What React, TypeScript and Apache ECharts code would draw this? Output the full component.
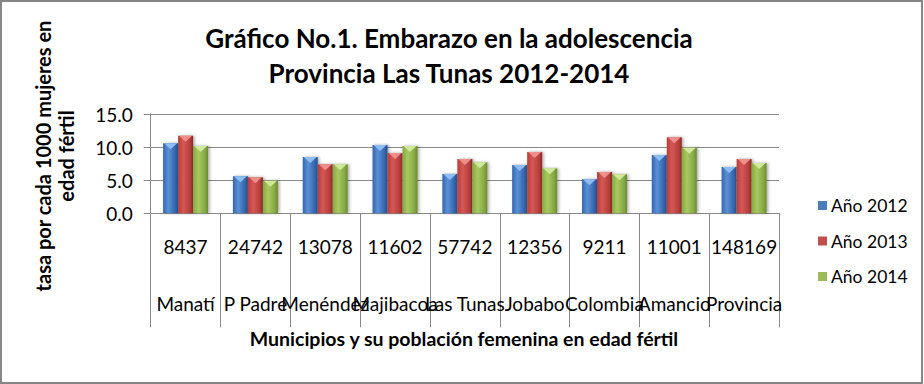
import React, { useEffect, useRef } from "react";
import * as echarts from "echarts";

const municipios = ["Manatí", "P Padre", "Menéndez", "Majibacoa", "Las Tunas", "Jobabo", "Colombia", "Amancio", "Provincia"];
const poblacion = ["8437", "24742", "13078", "11602", "57742", "12356", "9211", "11001", "148169"];
const seriesNames = ["Año 2012", "Año 2013", "Año 2014"];
const anio2012 = [10.6, 5.6, 8.5, 10.3, 5.95, 7.3, 5.15, 8.8, 7.0];
const anio2013 = [11.7, 5.45, 7.4, 9.1, 8.2, 9.25, 6.25, 11.5, 8.2];
const anio2014 = [10.15, 4.9, 7.4, 10.15, 7.7, 6.8, 5.9, 9.9, 7.6];
const yTicks = [0, 5, 10, 15];

const FONT = "Lato, 'Noto Sans', sans-serif";

const palettes = [
  { base: "#4A7EBB", left: "#3466AE", mid: "#5A90D6", right: "#254F8F", tip: "#8DBDF2" },
  { base: "#C0504D", left: "#B53E3B", mid: "#D65855", right: "#8A2926", tip: "#EE8F8B" },
  { base: "#9BBB59", left: "#85A843", mid: "#A8C960", right: "#6A8A2E", tip: "#CFE89A" },
];

export default function App() {
  const ref = useRef<HTMLDivElement>(null);
  useEffect(() => {
    if (!ref.current) return;
    const chart = echarts.init(ref.current, undefined, { renderer: "svg" });
    const allSeries = [anio2012, anio2013, anio2014];
    const bw = 15;
    const series = allSeries.map((vals, s) => ({
      type: "custom" as const,
      name: seriesNames[s],
      itemStyle: { color: palettes[s].base },
      data: vals.map((v, i) => [i, v]),
      encode: { x: 0, y: 1 },
      renderItem: (params: any, api: any) => {
        const cat = api.value(0);
        const v = api.value(1);
        const top = api.coord([cat, v]);
        const base = api.coord([cat, 0]);
        const x = top[0] + (s - 1) * bw - bw / 2;
        const y = top[1];
        const h = base[1] - top[1];
        const p = palettes[s];
        return {
          type: "group",
          children: [
            {
              type: "rect",
              shape: { x, y, width: bw, height: h },
              style: {
                fill: new echarts.graphic.LinearGradient(0, 0, 1, 0, [
                  { offset: 0, color: p.left },
                  { offset: 0.35, color: p.mid },
                  { offset: 0.8, color: p.left },
                  { offset: 1, color: p.right },
                ]),
                shadowBlur: 3,
                shadowOffsetX: 1.5,
                shadowOffsetY: 0,
                shadowColor: "rgba(0,0,0,0.35)",
              },
            },
            {
              type: "polygon",
              shape: { points: [[x + 1, y], [x + bw - 1, y], [x + bw / 2, y + 6]] },
              style: { fill: p.tip },
            },
          ],
        };
      },
    }));

    chart.setOption({
      animation: false,
      backgroundColor: "#ffffff",
      grid: { left: 150.7, right: 145, top: 114, bottom: 170.7, containLabel: false },
      legend: {
        orient: "vertical",
        left: 813,
        top: 191.5,
        itemWidth: 9,
        itemHeight: 9,
        itemGap: 17.5,
        icon: "rect",
        data: seriesNames,
        textStyle: { fontFamily: FONT, fontSize: 17.5, color: "#000", lineHeight: 18, padding: [0, 0, 0, -1] },
      },
      xAxis: {
        type: "category",
        data: municipios,
        axisLine: { show: true, lineStyle: { color: "#888", width: 1 } },
        axisTick: { show: true, interval: 0, length: 114, lineStyle: { color: "#888", width: 1 } },
        axisLabel: {
          interval: 0,
          hideOverlap: false,
          margin: 24,
          fontFamily: FONT,
          fontSize: 19,
          lineHeight: 19,
          color: "#000",
          formatter: (val: string, idx: number) => poblacion[idx] + "\n\n\n" + val,
        },
        splitLine: { show: false },
      },
      yAxis: {
        type: "value",
        min: yTicks[0],
        max: yTicks[yTicks.length - 1],
        interval: 5,
        axisLine: { show: true, lineStyle: { color: "#888", width: 1 } },
        axisTick: { show: true, length: 7, lineStyle: { color: "#888" } },
        splitLine: { show: true, lineStyle: { color: "#888", width: 1 } },
        axisLabel: {
          margin: 18,
          fontFamily: FONT,
          fontSize: 19,
          color: "#000",
          formatter: (v: number) => v.toFixed(1),
        },
      },
      graphic: [
        {
          type: "rect",
          shape: { x: 1, y: 1, width: 921, height: 382 },
          style: { fill: "none", stroke: "#868686", lineWidth: 2 },
          silent: true,
        },
        {
          type: "text",
          x: 449,
          y: 55.5,
          style: {
            text: "Gráfico No.1. Embarazo en la adolescencia\nProvincia Las Tunas 2012-2014",
            font: `bold 26px ${FONT}`,
            lineHeight: 35,
            fill: "#000",
            align: "center",
            verticalAlign: "middle",
          },
        },
        {
          type: "text",
          x: 54,
          y: 156,
          rotation: Math.PI / 2,
          style: {
            text: "tasa por cada 1000 mujeres en\nedad fértil",
            font: `bold 20px ${FONT}`,
            lineHeight: 23,
            fill: "#000",
            align: "center",
            verticalAlign: "middle",
          },
        },
        {
          type: "text",
          x: 464,
          y: 338,
          style: {
            text: "Municipios y su población femenina en edad fértil",
            font: `bold 19.5px ${FONT}`,
            fill: "#000",
            align: "center",
            verticalAlign: "middle",
          },
        },
      ],
      series,
    });
    return () => chart.dispose();
  }, []);
  return <div ref={ref} style={{ position: "absolute", left: 0, top: 0, width: 924, height: 384 }} />;
}
